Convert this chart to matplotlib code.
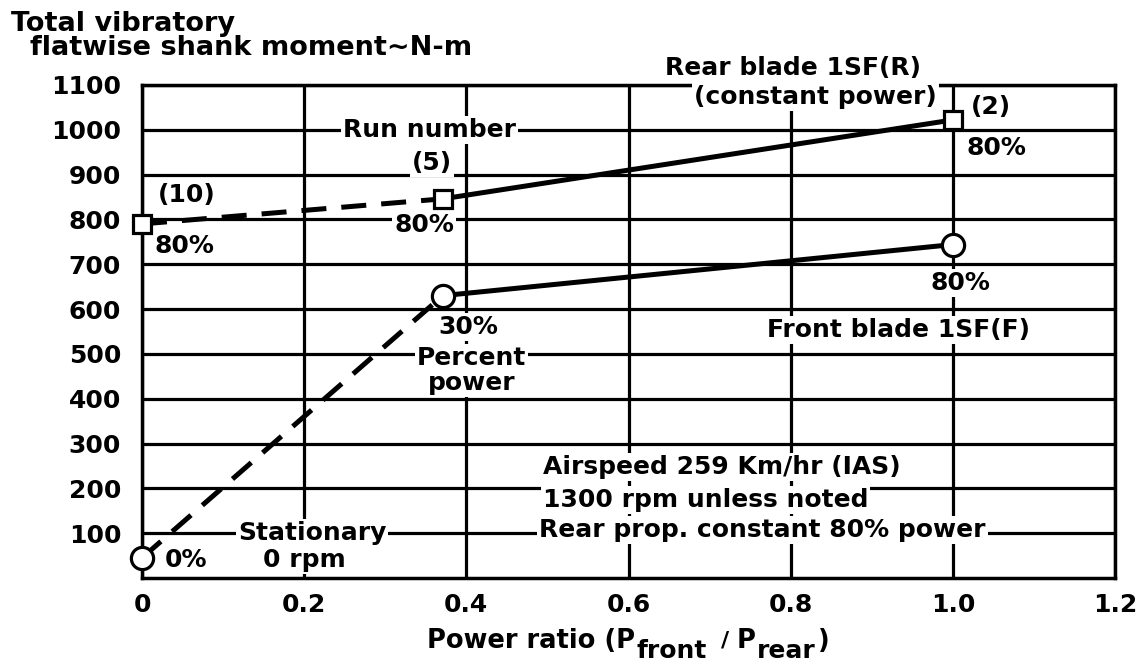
import matplotlib
matplotlib.use("Agg")
import matplotlib.pyplot as plt

plt.rcParams['font.family'] = ['DejaVu Sans']
plt.rcParams['font.weight'] = 'bold'

# data
power_ratio = [0.0, 0.371, 1.0]
rear_moment = [790, 846, 1022]     # Rear blade 1SF(R), squares
front_moment = [45, 630, 744]      # Front blade 1SF(F), circles

x_ticks = [0, 0.2, 0.4, 0.6, 0.8, 1.0, 1.2]
x_ticklabels = ["0", "0.2", "0.4", "0.6", "0.8", "1.0", "1.2"]
y_ticks = [100, 200, 300, 400, 500, 600, 700, 800, 900, 1000, 1100]

W, H = 1148, 667
fig = plt.figure(figsize=(W / 100, H / 100), dpi=100)
ax = fig.add_axes([0.1237, 0.1334, 0.8476, 0.7392])

ax.set_xlim(0, 1.2)
ax.set_ylim(0, 1100)
ax.set_xticks(x_ticks)
ax.set_xticklabels(x_ticklabels)
ax.set_yticks(y_ticks)
ax.tick_params(axis='y', length=0, labelsize=18, pad=15)
ax.tick_params(axis='x', length=0, labelsize=18, pad=11)
for lab in ax.get_xticklabels() + ax.get_yticklabels():
    lab.set_fontweight('bold')
ax.set_axisbelow(True)
ax.grid(True, color='black', lw=2.3)
for s in ax.spines.values():
    s.set_linewidth(2.5)

lw = 3.6
dash = (0, (5, 3))
# rear blade
ax.plot(power_ratio[:2], rear_moment[:2], color='black', lw=lw, ls=dash, zorder=4)
ax.plot(power_ratio[1:], rear_moment[1:], color='black', lw=lw, zorder=4)
ax.plot(power_ratio, rear_moment, ls='none', marker='s', ms=13, mfc='white',
        mec='black', mew=2.3, zorder=6, clip_on=False)
# front blade
ax.plot(power_ratio[:2], front_moment[:2], color='black', lw=lw, ls=dash, zorder=4)
ax.plot(power_ratio[1:], front_moment[1:], color='black', lw=lw, zorder=4)
ax.plot(power_ratio, front_moment, ls='none', marker='o', ms=16, mfc='white',
        mec='black', mew=2.3, zorder=6, clip_on=False)

box = dict(facecolor='white', edgecolor='none', pad=1.5)
fs = 18


def note(x, y, s, ha='center', **kw):
    ax.text(x, y, s, ha=ha, va='center', fontsize=fs, fontweight='bold',
            bbox=box, zorder=5, clip_on=False, **kw)


note(0.355, 1000, "Run number")
note(0.358, 926, "(5)")
note(0.348, 788, "80%")
note(0.02, 855, "(10)", ha='left')
note(0.016, 740, "80%", ha='left')
note(0.803, 1138, "Rear blade 1SF(R)")
note(0.831, 1073, "(constant power)")
note(1.022, 1051, "(2)", ha='left')
note(1.017, 959, "80%", ha='left')
note(1.009, 658, "80%")
note(0.933, 553, "Front blade 1SF(F)")
note(0.403, 560, "30%")
note(0.406, 491, "Percent")
note(0.406, 435, "power")
note(0.21, 100, "Stationary")
note(0.20, 40, "0 rpm")
note(0.028, 40, "0%", ha='left')
note(0.494, 248, "Airspeed 259 Km/hr (IAS)", ha='left')
note(0.494, 174, "1300 rpm unless noted", ha='left')
note(0.49, 107, "Rear prop. constant 80% power", ha='left')

# y axis title, two lines above the axes (one text so the lines can sit close)
fig.text(11 / W, 1 - 11 / H, "Total vibratory\n  flatwise shank moment\u223cN-m",
         ha='left', va='top', fontsize=19.5, fontweight='bold',
         linespacing=0.9)

# x axis title with large subscripts, built piece by piece
pieces = [("Power ratio (P", 18.5, 0, 2),
          ("front", 18, -10, 14),
          ("/", 16, 2, 8),
          ("P", 18.5, 0, 1),
          ("rear", 18, -10, 2),
          (")", 18.5, 0, 0)]
renderer = fig.canvas.get_renderer()
base_y = 648
texts = []
widths = []
for s, size, dy, gap in pieces:
    t = fig.text(0, (H - base_y + dy) / H, s, ha='left', va='baseline',
                 fontsize=size, fontweight='bold')
    widths.append(t.get_window_extent(renderer).width)
    texts.append(t)
total = sum(widths) + sum(p[3] for p in pieces[:-1])
x = 628 - total / 2
for t, w, p in zip(texts, widths, pieces):
    t.set_x(x / W)
    x += w + p[3]

fig.savefig("out.png", dpi=100, facecolor="white")
